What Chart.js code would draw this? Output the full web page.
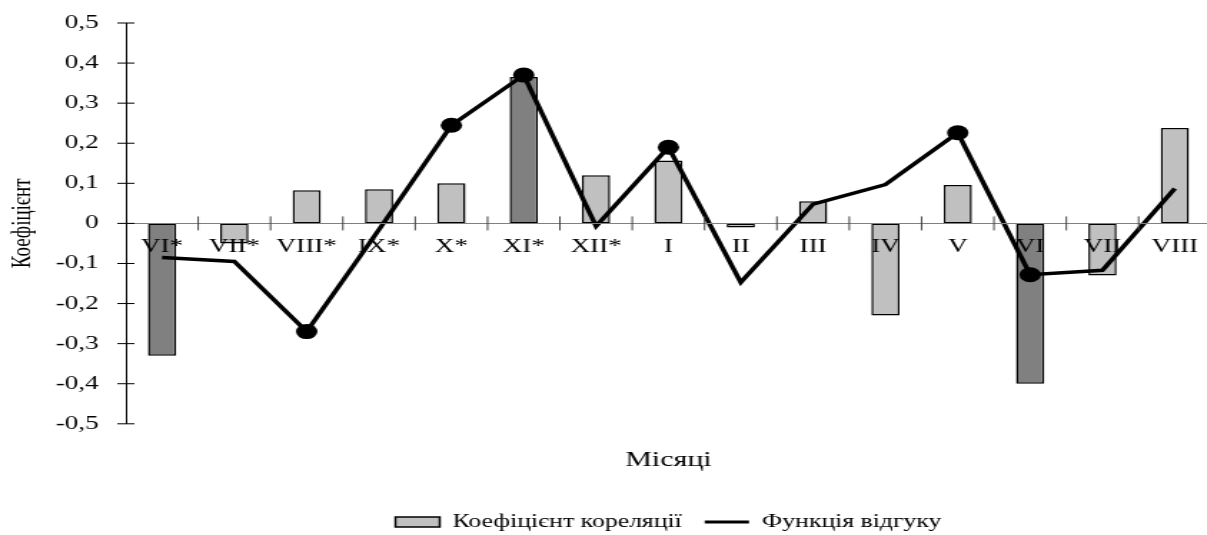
<!DOCTYPE html>
<html lang="uk">
<head>
<meta charset="utf-8">
<title>Коефіцієнт кореляції і функція відгуку</title>
<script src="https://cdn.jsdelivr.net/npm/chart.js@4/dist/chart.umd.min.js"></script>
<style>
  html, body { margin: 0; padding: 0; background: #fff; overflow: hidden; }
  /* the figure is drawn narrow and widened horizontally, like the stretched original layout */
  #wrap { width: 850px; height: 535px; transform: scaleX(1.43); transform-origin: 0 0; }
  #chart { display: block; }
</style>
</head>
<body>
<div id="wrap"><canvas id="chart" width="850" height="535"></canvas></div>
<script>
// Months of the two-year window (* = previous year)
const months = ['VI*', 'VII*', 'VIII*', 'IX*', 'X*', 'XI*', 'XII*', 'I', 'II', 'III', 'IV', 'V', 'VI', 'VII', 'VIII'];

// Correlation coefficient per month (bars)
const correlation = [-0.33, -0.05, 0.083, 0.085, 0.10, 0.365, 0.12, 0.157, -0.01, 0.055, -0.23, 0.096, -0.40, -0.13, 0.238];

// Response function per month (line)
const response = [-0.085, -0.095, -0.27, -0.015, 0.245, 0.37, -0.007, 0.19, -0.147, 0.048, 0.097, 0.226, -0.128, -0.117, 0.087];

// Months whose bars are shaded darker, and months marked with a dot on the line
const darkMonths = ['VI*', 'XI*', 'VI'];
const dotMonths = ['VIII*', 'X*', 'XI*', 'I', 'V', 'VI'];

// Value axis range and step
const yMin = -0.5, yMax = 0.5, yStep = 0.1;

const seriesNames = ['Коефіцієнт кореляції', 'Функція відгуку'];

const FONT = '"Liberation Serif", "Times New Roman", serif';
const LIGHT = '#c0c0c0';
const DARK = '#808080';

// Short tick marks that cross both axes
const crossTicks = {
  id: 'crossTicks',
  afterDraw(chart) {
    const { ctx, scales: { x, y } } = chart;
    const zero = y.getPixelForValue(0);
    ctx.save();
    ctx.lineWidth = 1;
    ctx.strokeStyle = '#000';
    ctx.beginPath();
    y.ticks.forEach((t, i) => {
      const py = y.getPixelForTick(i);
      ctx.moveTo(x.left - 6, py);
      ctx.lineTo(x.left + 6, py);
    });
    ctx.stroke();
    ctx.strokeStyle = '#444';
    ctx.beginPath();
    const n = x.ticks.length;
    const step = x.width / n;
    for (let i = 1; i <= n; i++) {
      const px = x.left + i * step;
      ctx.moveTo(px, zero - 7);
      ctx.lineTo(px, zero + 7);
    }
    ctx.stroke();
    ctx.restore();
  }
};

new Chart(document.getElementById('chart'), {
  data: {
    labels: months,
    datasets: [
      {
        type: 'bar',
        label: seriesNames[0],
        data: correlation,
        order: 1,
        backgroundColor: months.map(m => darkMonths.includes(m) ? DARK : LIGHT),
        borderColor: '#000',
        borderWidth: 1.5,
        borderSkipped: false,
        barPercentage: 0.39,
        categoryPercentage: 1
      },
      {
        type: 'line',
        label: seriesNames[1],
        data: response,
        order: 0,
        borderColor: '#000',
        borderWidth: 3.5,
        tension: 0,
        fill: false,
        pointRadius: months.map(m => dotMonths.includes(m) ? 7.5 : 0),
        pointBackgroundColor: '#000',
        pointBorderWidth: 0,
        pointHoverRadius: 0
      }
    ]
  },
  options: {
    responsive: false,
    animation: false,
    devicePixelRatio: 1,
    layout: { padding: { top: 23, right: 0, bottom: -6, left: 0 } },
    scales: {
      x: {
        type: 'category',
        position: { y: 0 },
        offset: true,
        grid: { display: false, drawTicks: false, tickLength: 0 },
        border: { display: true, color: '#808080', width: 1, z: 1 },
        ticks: {
          z: 1,
          color: '#000',
          font: { family: FONT, size: 19 },
          padding: 12,
          autoSkip: false,
          maxRotation: 0,
          minRotation: 0
        }
      },
      y: {
        type: 'linear',
        position: 'left',
        min: yMin,
        max: yMax,
        afterFit(scale) {
          scale.width = 88;
          scale.paddingTop = 11;
          scale.paddingBottom = 11;
        },
        grid: { display: false, drawTicks: false, tickLength: 0 },
        border: { display: true, color: '#000', width: 1 },
        ticks: {
          stepSize: yStep,
          color: '#000',
          font: { family: FONT, size: 19 },
          padding: 19,
          callback: v => {
            const r = Math.round(v * 10) / 10;
            return r === 0 ? '0' : r.toFixed(1).replace('.', ',');
          }
        },
        title: {
          display: true,
          text: 'Коефіцієнт',
          color: '#000',
          font: { family: FONT, size: 19 },
          padding: { top: 5, bottom: 0 }
        }
      }
    },
    plugins: {
      tooltip: { enabled: false },
      title: {
        display: true,
        text: 'Місяці',
        position: 'bottom',
        fullSize: false,
        weight: 2000,
        color: '#000',
        font: { family: FONT, size: 21, weight: 'normal' },
        padding: { top: 24, bottom: 24 }
      },
      legend: {
        display: true,
        position: 'bottom',
        fullSize: false,
        weight: 3000,
        labels: {
          color: '#000',
          font: { family: FONT, size: 18 },
          usePointStyle: true,
          pointStyleWidth: 31,
          boxHeight: 10,
          padding: 16,
          generateLabels(chart) {
            return chart.data.datasets.map((ds, i) => ({
              text: ds.label,
              fillStyle: ds.type === 'line' ? '#000' : LIGHT,
              strokeStyle: '#000',
              lineWidth: ds.type === 'line' ? 3 : 1.5,
              pointStyle: ds.type === 'line' ? 'line' : 'rect',
              hidden: !chart.isDatasetVisible(i),
              datasetIndex: i,
              fontColor: '#000'
            }));
          }
        }
      }
    }
  },
  plugins: [crossTicks]
});
</script>
</body>
</html>
